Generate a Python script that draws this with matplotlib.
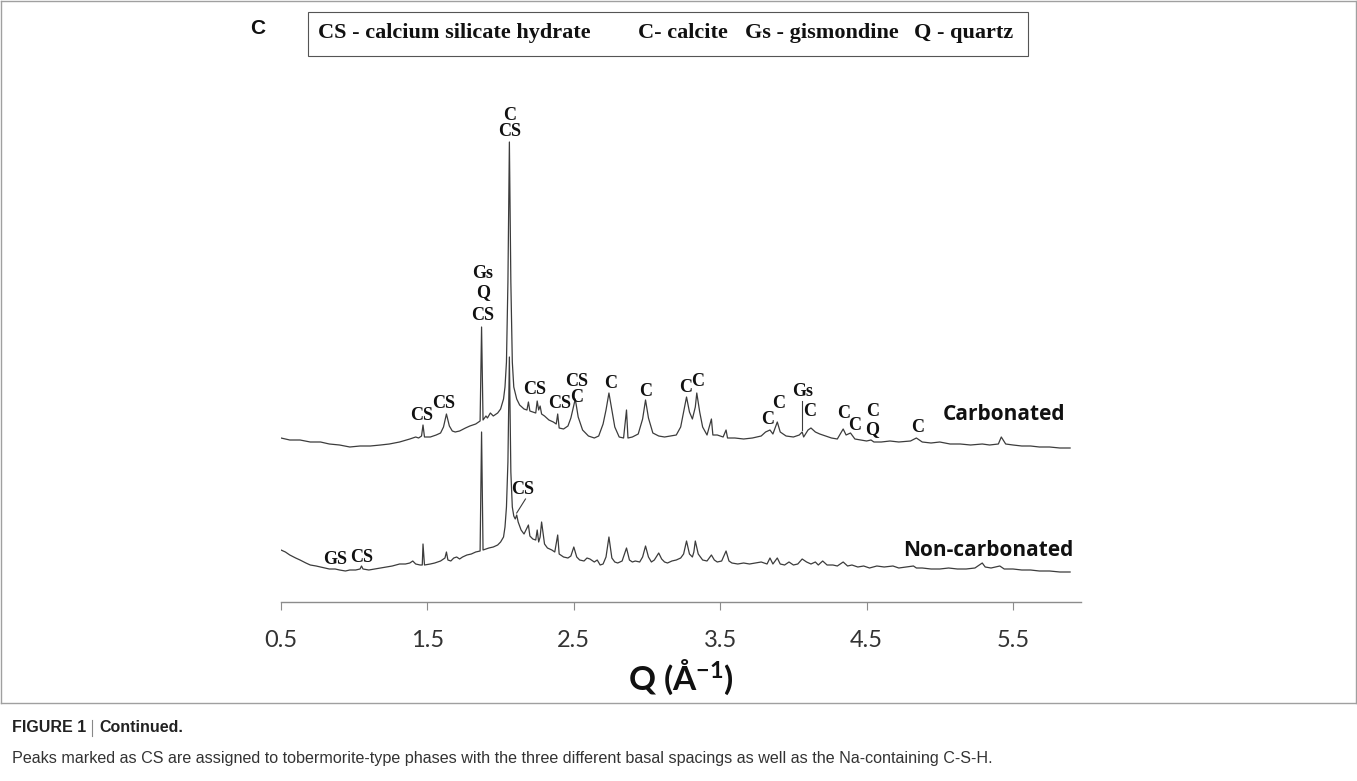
import matplotlib.pyplot as plt
from matplotlib.patches import Rectangle
from matplotlib.lines import Line2D

plt.rcParams['font.family'] = 'Lato'
plt.rcParams['mathtext.fontset'] = 'custom'
plt.rcParams['mathtext.rm'] = 'Lato:bold'
plt.rcParams['mathtext.default'] = 'rm'

# Carbonated pattern (Q in 1/A, intensity in arbitrary units)
q_carb = [0.50, 0.56, 0.63, 0.70, 0.77, 0.83, 0.90, 0.97, 1.04, 1.11, 1.18, 1.24, 1.31, 1.38,
          1.42, 1.44, 1.46, 1.47, 1.48, 1.52, 1.56, 1.59, 1.61, 1.63, 1.65, 1.67, 1.69, 1.72,
          1.76, 1.79, 1.83, 1.86, 1.87, 1.88, 1.90, 1.91, 1.93, 1.95, 1.98, 2.00, 2.02, 2.03,
          2.04, 2.05, 2.06, 2.07, 2.08, 2.09, 2.11, 2.13, 2.16, 2.18, 2.19, 2.20, 2.22, 2.24,
          2.25, 2.26, 2.27, 2.28, 2.30, 2.33, 2.36, 2.38, 2.39, 2.40, 2.43, 2.46, 2.48, 2.51,
          2.53, 2.56, 2.60, 2.64, 2.67, 2.70, 2.72, 2.74, 2.76, 2.78, 2.81, 2.84, 2.86, 2.87,
          2.90, 2.94, 2.97, 2.99, 3.01, 3.04, 3.08, 3.12, 3.16, 3.20, 3.23, 3.25, 3.27, 3.29,
          3.31, 3.33, 3.34, 3.36, 3.38, 3.41, 3.44, 3.45, 3.48, 3.52, 3.54, 3.55, 3.60, 3.66,
          3.72, 3.78, 3.81, 3.84, 3.86, 3.89, 3.91, 3.95, 4.00, 4.04, 4.06, 4.07, 4.10, 4.12,
          4.15, 4.18, 4.22, 4.26, 4.30, 4.34, 4.36, 4.39, 4.42, 4.46, 4.50, 4.53, 4.55, 4.60,
          4.66, 4.72, 4.80, 4.84, 4.88, 4.94, 5.00, 5.07, 5.14, 5.21, 5.29, 5.34, 5.40, 5.42,
          5.45, 5.50, 5.56, 5.62, 5.68, 5.75, 5.82, 5.89]
i_carb = [164, 162, 162, 160, 160, 158, 157, 155, 156, 156, 157, 158, 160, 163,
          165, 164, 166, 177, 165, 165, 167, 169, 175, 188, 176, 171, 170, 171,
          174, 176, 178, 181, 275, 182, 186, 184, 189, 186, 189, 193, 203, 215,
          240, 320, 460, 320, 240, 215, 203, 197, 193, 192, 200, 191, 190, 189,
          201, 192, 196, 188, 186, 182, 180, 178, 188, 174, 173, 176, 184, 203,
          185, 172, 166, 164, 166, 178, 192, 209, 192, 175, 165, 164, 192, 164,
          165, 168, 183, 202, 184, 169, 166, 165, 166, 167, 175, 190, 205, 190,
          183, 195, 209, 190, 175, 167, 183, 167, 167, 165, 172, 164, 164, 163,
          164, 166, 170, 172, 168, 180, 170, 166, 165, 167, 170, 165, 172, 174,
          170, 168, 166, 164, 163, 173, 167, 169, 163, 162, 161, 162, 160, 160,
          161, 160, 161, 164, 160, 159, 160, 158, 158, 157, 158, 157, 158, 165,
          158, 157, 156, 156, 155, 155, 154, 154]

# Non-carbonated pattern
q_non = [0.50, 0.53, 0.56, 0.60, 0.63, 0.67, 0.70, 0.74, 0.77, 0.80, 0.83, 0.87, 0.90, 0.94,
         0.97, 1.01, 1.04, 1.05, 1.06, 1.10, 1.14, 1.18, 1.22, 1.26, 1.31, 1.35, 1.38, 1.40,
         1.42, 1.45, 1.465, 1.47, 1.48, 1.52, 1.55, 1.59, 1.62, 1.63, 1.64, 1.66, 1.68, 1.70,
         1.72, 1.74, 1.77, 1.80, 1.83, 1.86, 1.87, 1.88, 1.90, 1.92, 1.95, 1.98, 2.00, 2.02,
         2.03, 2.04, 2.05, 2.06, 2.07, 2.08, 2.09, 2.10, 2.11, 2.12, 2.14, 2.16, 2.19, 2.20,
         2.22, 2.24, 2.25, 2.26, 2.27, 2.28, 2.30, 2.32, 2.35, 2.37, 2.39, 2.40, 2.43, 2.46,
         2.48, 2.50, 2.52, 2.54, 2.57, 2.59, 2.61, 2.64, 2.66, 2.68, 2.70, 2.72, 2.74, 2.76,
         2.78, 2.80, 2.83, 2.86, 2.88, 2.90, 2.92, 2.95, 2.97, 2.99, 3.01, 3.03, 3.05, 3.08,
         3.10, 3.12, 3.14, 3.17, 3.20, 3.23, 3.25, 3.27, 3.29, 3.31, 3.32, 3.33, 3.35, 3.38,
         3.41, 3.44, 3.46, 3.48, 3.51, 3.54, 3.56, 3.58, 3.62, 3.66, 3.70, 3.74, 3.78, 3.82,
         3.84, 3.86, 3.89, 3.91, 3.94, 3.97, 4.00, 4.03, 4.06, 4.09, 4.12, 4.15, 4.17, 4.20,
         4.23, 4.27, 4.30, 4.34, 4.37, 4.40, 4.44, 4.48, 4.52, 4.57, 4.62, 4.68, 4.72, 4.77,
         4.82, 4.84, 4.88, 4.94, 5.00, 5.06, 5.12, 5.18, 5.24, 5.29, 5.31, 5.35, 5.41, 5.44,
         5.50, 5.56, 5.62, 5.68, 5.75, 5.82, 5.89]
i_non = [52, 50, 47, 44, 42, 39, 37, 36, 35, 34, 33, 33, 32, 31,
         32, 32, 33, 36, 33, 32, 33, 34, 35, 36, 38, 38, 39, 41,
         38, 37, 37, 58, 37, 38, 39, 41, 44, 50, 42, 41, 44, 45,
         43, 45, 47, 48, 50, 51, 170, 52, 53, 54, 55, 57, 60, 65,
         75, 95, 140, 245, 130, 95, 86, 83, 87, 80, 72, 68, 77, 66,
         63, 62, 72, 60, 65, 80, 58, 54, 52, 50, 67, 48, 45, 44,
         46, 55, 45, 42, 41, 44, 43, 40, 42, 37, 38, 45, 65, 44,
         40, 39, 41, 54, 42, 40, 41, 40, 45, 56, 45, 40, 42, 49,
         43, 40, 39, 41, 42, 44, 48, 61, 48, 45, 50, 61, 48, 42,
         41, 47, 42, 40, 41, 51, 41, 39, 38, 39, 38, 39, 40, 38,
         44, 38, 44, 38, 37, 40, 37, 38, 43, 40, 38, 40, 37, 41,
         37, 37, 36, 40, 36, 37, 35, 36, 34, 36, 35, 36, 34, 35,
         36, 34, 34, 33, 33, 34, 33, 33, 34, 39, 35, 34, 36, 33,
         33, 32, 32, 31, 31, 30, 30]

ticks = [0.5, 1.5, 2.5, 3.5, 4.5, 5.5]

# peak assignments: (label, Q, height of label)
carb_labels = [('CS', 1.46, 186), ('CS', 1.61, 199),
               ('Gs', 1.88, 329), ('Q', 1.88, 309), ('CS', 1.88, 287),
               ('C', 2.06, 487), ('CS', 2.06, 471),
               ('CS', 2.23, 212), ('CS', 2.40, 198),
               ('CS', 2.52, 221), ('C', 2.52, 204),
               ('C', 2.75, 219), ('C', 2.99, 211),
               ('C', 3.262, 215), ('C', 3.348, 220),
               ('C', 3.825, 182), ('C', 3.90, 199),
               ('Gs', 4.06, 210), ('C', 4.11, 190),
               ('C', 4.34, 189), ('C', 4.42, 177),
               ('C', 4.54, 190), ('Q', 4.54, 172),
               ('C', 4.85, 175)]
non_labels = [('GS', 0.87, 43), ('CS', 1.05, 44), ('CS', 2.15, 112)]

fig = plt.figure(figsize=(13.57, 7.81), dpi=100)
ax = fig.add_axes([281 / 1357, 179 / 781, 800 / 1357, 480 / 781])

line_col = '#3c3c3c'
ax.plot(q_carb, i_carb, color=line_col, lw=0.9)
ax.plot(q_non, i_non, color=line_col, lw=0.9)

lab_font = dict(family='Liberation Serif', fontweight='bold', fontsize=13,
                ha='center', va='center', color='#111111')
for t, q, h in carb_labels + non_labels:
    ax.text(q, h, t, **lab_font)

# leader lines
ax.plot([4.06, 4.06], [201, 172], color=line_col, lw=0.8)
ax.plot([2.17, 2.11], [103, 89], color=line_col, lw=0.8)

ax.text(5.44, 188, 'Carbonated', fontsize=15, fontweight='bold', family='Open Sans',
        ha='center', va='center', color='#111111')
ax.text(5.33, 52, 'Non-carbonated', fontsize=15, fontweight='bold', family='Open Sans',
        ha='center', va='center', color='#111111')

ax.set_xlim(0.5, 0.5 + 800 / 146.4)
ax.set_ylim(0, 480)
ax.set_xticks(ticks)
ax.set_xticklabels([str(t) for t in ticks])
ax.set_yticks([])
for s in ['left', 'right', 'top']:
    ax.spines[s].set_visible(False)
ax.spines['bottom'].set_color('#8c8c8c')
ax.spines['bottom'].set_linewidth(1.0)
ax.tick_params(axis='x', direction='out', length=6, width=0.8, color='#8c8c8c',
               pad=14, labelsize=17, labelcolor='#333333')
ax.set_xlabel('Q (Å$^{-1}$)', fontsize=24, fontweight='bold', labelpad=5, color='#111111')

# legend box with abbreviations
fig.add_artist(Rectangle((308 / 1357, 1 - 56 / 781), 720 / 1357, 44 / 781,
                         transform=fig.transFigure, fill=False, ec='#555555', lw=0.8))
leg_items = [('CS - calcium silicate hydrate', 318), ('C- calcite', 638),
             ('Gs - gismondine', 745), ('Q - quartz', 914)]
for t, x in leg_items:
    fig.text(x / 1357, 1 - 33 / 781, t, family='Liberation Serif', fontweight='bold',
             fontsize=16, ha='left', va='center', color='#111111')

fig.text(258 / 1357, 1 - 29 / 781, 'C', family='Liberation Sans', fontweight='bold',
         fontsize=15, ha='center', va='center', color='#111111')

# outer frame
fr = '#a0a0a0'
fig.add_artist(Line2D([1 / 1357, 1356 / 1357], [1 - 1 / 781, 1 - 1 / 781], color=fr, lw=1))
fig.add_artist(Line2D([1 / 1357, 1 / 1357], [1 - 1 / 781, 1 - 703 / 781], color=fr, lw=1))
fig.add_artist(Line2D([1356 / 1357, 1356 / 1357], [1 - 1 / 781, 1 - 703 / 781], color=fr, lw=1))
fig.add_artist(Line2D([1 / 1357, 1356 / 1357], [1 - 703 / 781, 1 - 703 / 781], color=fr, lw=1))

# caption
fig.text(12 / 1357, 1 - 728 / 781, 'FIGURE 1', family='Liberation Sans', fontweight='bold',
         fontsize=11.5, ha='left', va='center', color='#222222')
fig.add_artist(Line2D([92 / 1357, 92 / 1357], [1 - 720 / 781, 1 - 736 / 781],
                      color='#888888', lw=0.8))
fig.text(99 / 1357, 1 - 728 / 781, 'Continued.', family='Liberation Sans', fontweight='bold',
         fontsize=11.5, ha='left', va='center', color='#222222')
fig.text(12 / 1357, 1 - 758 / 781,
         'Peaks marked as CS are assigned to tobermorite-type phases with the three different '
         'basal spacings as well as the Na-containing C-S-H.',
         family='Liberation Sans', fontsize=11.6, ha='left', va='center', color='#333333')

fig.savefig('out.png', dpi=100)
